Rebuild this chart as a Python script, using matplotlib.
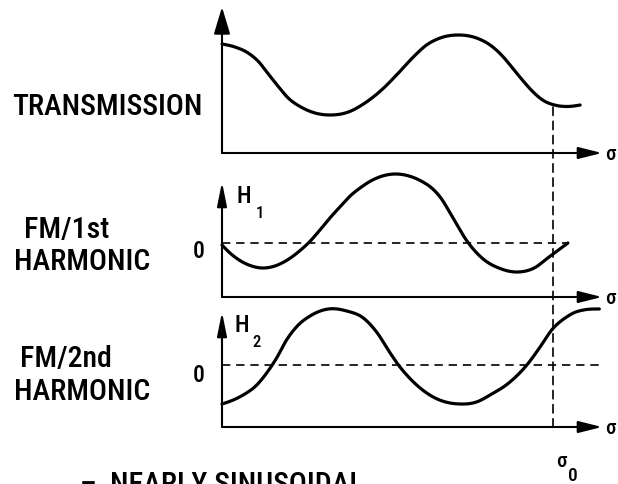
import numpy as np
import matplotlib
matplotlib.use("Agg")
import matplotlib.pyplot as plt
from matplotlib import font_manager
from matplotlib.patches import ConnectionPatch

# --- Curves (sigma in units of sigma_0) ---------------------------------------

SIGMA0 = 1.0

trans_sigma = [0.000, 0.039, 0.079, 0.110, 0.140, 0.170, 0.200, 0.241, 0.281,
               0.326, 0.382, 0.432, 0.482, 0.533, 0.578, 0.618, 0.659, 0.714,
               0.769, 0.810, 0.850, 0.880, 0.910, 0.940, 0.971, 1.011, 1.042,
               1.082]
trans_value = [1.09, 1.06, 1.00, 0.915, 0.79, 0.665, 0.55, 0.455, 0.40,
               0.38, 0.41, 0.50, 0.63, 0.80, 0.96, 1.08, 1.15, 1.18,
               1.15, 1.08, 0.96, 0.84, 0.72, 0.61, 0.525, 0.475, 0.465,
               0.48]

h1_sigma = [0.000, 0.024, 0.054, 0.085, 0.120, 0.155, 0.195, 0.236, 0.261,
            0.296, 0.326, 0.356, 0.387, 0.417, 0.452, 0.490, 0.526, 0.565,
            0.607, 0.630, 0.659, 0.698, 0.740, 0.789, 0.840, 0.894, 0.946,
            0.982, 1.045]
h1_value = [-0.02, -0.10, -0.175, -0.225, -0.25, -0.235, -0.175, -0.075, 0.00,
            0.13, 0.25, 0.36, 0.47, 0.55, 0.625, 0.675, 0.69, 0.67,
            0.61, 0.56, 0.46, 0.25, 0.02, -0.16, -0.255, -0.29, -0.245,
            -0.155, 0.00]

h2_sigma = [0.000, 0.034, 0.064, 0.105, 0.135, 0.165, 0.195, 0.226, 0.266,
            0.321, 0.377, 0.427, 0.467, 0.508, 0.533, 0.558, 0.588, 0.638,
            0.719, 0.769, 0.810, 0.870, 0.921, 0.961, 0.996, 1.041, 1.065,
            1.092, 1.140]
h2_value = [-0.39, -0.35, -0.30, -0.20, -0.08, 0.07, 0.25, 0.385, 0.49,
            0.56, 0.54, 0.47, 0.33, 0.12, 0.00, -0.10, -0.20, -0.32,
            -0.39, -0.37, -0.30, -0.17, 0.00, 0.18, 0.35, 0.48, 0.525,
            0.55, 0.56]

# --- Layout (pixels) -----------------------------------------------------------

W, H = 618, 484
X0, X1 = 222, 602          # y-axis position, arrow tip of sigma axis
PX_PER_SIGMA = 331.0
PX_PER_UNIT = 100.0

LW_CURVE = 2.3
LW_AXIS = 1.5
DASH = (0, (5, 3.5))


def have_font(name):
    try:
        font_manager.findfont(name, fallback_to_default=False)
        return True
    except ValueError:
        return False


# narrow lettering if a condensed face is around, otherwise a smaller regular one
LABEL_FONT, LABEL_SIZE = "DejaVu Sans", 17.5
for name in ["Liberation Sans Narrow", "DejaVu Sans Condensed", "Roboto Condensed"]:
    if have_font(name):
        LABEL_FONT, LABEL_SIZE = name, 21.5
        break
plt.rcParams["font.family"] = [LABEL_FONT, "DejaVu Sans"]
plt.rcParams["font.weight"] = "medium"


def smooth(x, y, n=600):
    """Piecewise cubic Hermite curve y(x) through the points."""
    x = np.asarray(x, float)
    y = np.asarray(y, float)
    h = np.diff(x)
    d = np.diff(y) / h
    m = np.empty_like(y)
    m[1:-1] = (d[:-1] * h[1:] + d[1:] * h[:-1]) / (h[:-1] + h[1:])
    m[0] = 1.5 * d[0] - 0.5 * m[1]
    m[-1] = 1.5 * d[-1] - 0.5 * m[-2]
    xs = np.linspace(x[0], x[-1], n)
    i = np.clip(np.searchsorted(x, xs, side="right") - 1, 0, len(h) - 1)
    t = (xs - x[i]) / h[i]
    ys = ((2 * t**3 - 3 * t**2 + 1) * y[i] + (t**3 - 2 * t**2 + t) * h[i] * m[i]
          + (-2 * t**3 + 3 * t**2) * y[i + 1] + (t**3 - t**2) * h[i] * m[i + 1])
    return xs, ys


def panel(fig, top_px, axis_px, zero_px):
    ax = fig.add_axes([X0 / W, 1 - axis_px / H, (X1 - X0) / W, (axis_px - top_px) / H])
    ax.set_xlim(0, (X1 - X0) / PX_PER_SIGMA)
    ax.set_ylim((zero_px - axis_px) / PX_PER_UNIT, (zero_px - top_px) / PX_PER_UNIT)
    ax.patch.set_alpha(0)
    ax.set_axis_off()
    return ax


def axes_arrows(ax, base, tip, ylen=1.44, yw=0.29):
    xmax = ax.get_xlim()[1]
    ax.annotate("", xy=(xmax, base), xytext=(0, base),
                arrowprops=dict(arrowstyle="-|>,head_length=1.44,head_width=0.36",
                                lw=LW_AXIS, color="black", shrinkA=0, shrinkB=0,
                                mutation_scale=10), annotation_clip=False)
    ax.annotate("", xy=(0, tip), xytext=(0, base),
                arrowprops=dict(arrowstyle=f"-|>,head_length={ylen},head_width={yw}",
                                lw=LW_AXIS, color="black", shrinkA=0, shrinkB=0,
                                mutation_scale=10), annotation_clip=False)
    ax.text(xmax + 0.01, base - 0.07, "σ", fontsize=15, ha="left", va="baseline")


def curve(ax, sig, val):
    xs, ys = smooth(sig, val)
    ax.plot(xs, ys, color="black", lw=LW_CURVE, solid_capstyle="round", clip_on=False)


fig = plt.figure(figsize=(W / 100, H / 100), dpi=100, facecolor="white")

# Transmission
ax_t = panel(fig, 5, 153, 153)
axes_arrows(ax_t, 0.0, 1.46, ylen=1.66, yw=0.5)
curve(ax_t, trans_sigma, trans_value)
ax_t.text(-0.634, 0.38, "TRANSMISSION", fontsize=LABEL_SIZE, ha="left", va="baseline")

# FM / 1st harmonic
ax_1 = panel(fig, 160, 297, 243)
axes_arrows(ax_1, -0.54, 0.61)
ax_1.plot([0, h1_sigma[-1]], [0, 0], color="black", lw=1.2, ls=DASH, clip_on=False)
curve(ax_1, h1_sigma, h1_value)
ax_1.text(-0.598, 0.05, "FM/1st", fontsize=LABEL_SIZE, ha="left", va="baseline")
ax_1.text(-0.628, -0.27, "HARMONIC", fontsize=LABEL_SIZE, ha="left", va="baseline")
ax_1.text(-0.088, -0.15, "0", fontsize=17, ha="left", va="baseline")
ax_1.text(0.045, 0.40, "H", fontsize=17, ha="left", va="baseline")
ax_1.text(0.103, 0.25, "1", fontsize=12, ha="left", va="baseline")

# FM / 2nd harmonic
ax_2 = panel(fig, 300, 427, 365)
axes_arrows(ax_2, -0.62, 0.53)
ax_2.plot([0, h2_sigma[-1]], [0, 0], color="black", lw=1.2, ls=DASH, clip_on=False)
curve(ax_2, h2_sigma, h2_value)
ax_2.text(-0.610, -0.02, "FM/2nd", fontsize=LABEL_SIZE, ha="left", va="baseline")
ax_2.text(-0.628, -0.35, "HARMONIC", fontsize=LABEL_SIZE, ha="left", va="baseline")
ax_2.text(-0.088, -0.17, "0", fontsize=17, ha="left", va="baseline")
ax_2.text(0.039, 0.33, "H", fontsize=17, ha="left", va="baseline")
ax_2.text(0.091, 0.18, "2", fontsize=12, ha="left", va="baseline")

# sigma_0 marker running down through all three panels
t_at_s0 = np.interp(SIGMA0, trans_sigma, trans_value)
con = ConnectionPatch(xyA=(SIGMA0, t_at_s0 - 0.03), coordsA=ax_t.transData,
                      xyB=(SIGMA0, -0.62), coordsB=ax_2.transData,
                      color="black", lw=1.2, linestyle=DASH)
fig.add_artist(con)
ax_2.text(SIGMA0 + 0.009, -1.02, "σ", fontsize=15, ha="left", va="baseline")
ax_2.text(SIGMA0 + 0.045, -1.16, "0", fontsize=14, ha="left", va="baseline")

# caption runs off the lower edge of the sheet
ax_2.text(-0.429, -1.28, "–", fontsize=LABEL_SIZE, ha="left", va="baseline")
ax_2.text(-0.338, -1.28, "NEARLY SINUSOIDAL", fontsize=LABEL_SIZE, ha="left", va="baseline")

fig.savefig("out.png", dpi=100, facecolor="white")
